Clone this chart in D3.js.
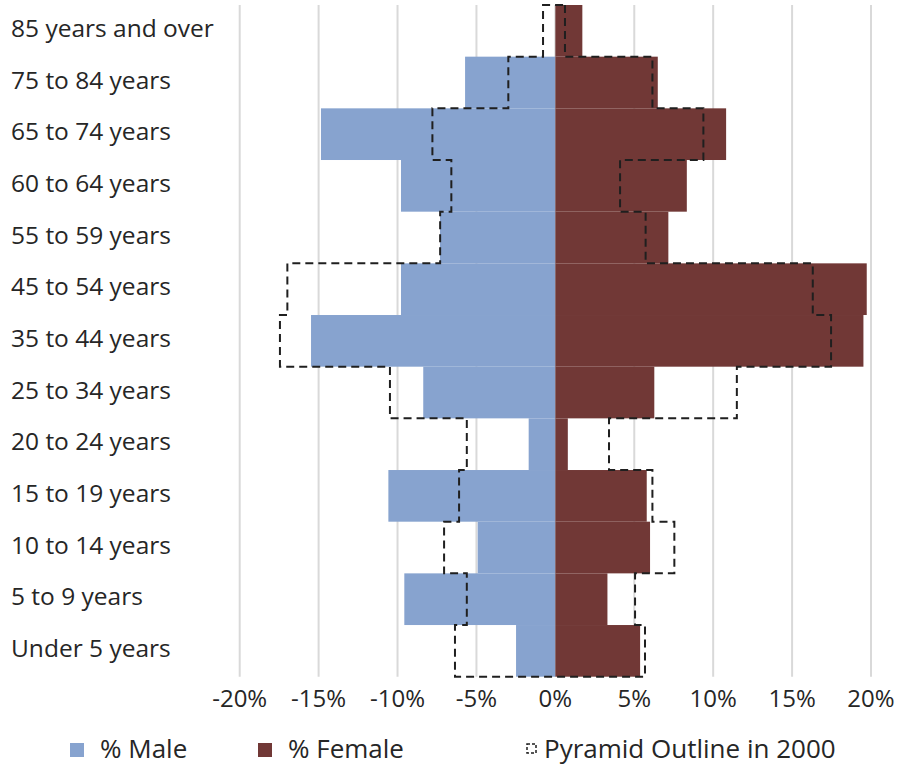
<!DOCTYPE html>
<html>
<head>
<meta charset="utf-8">
<script src="https://cdn.jsdelivr.net/npm/d3@7/dist/d3.min.js"></script>
<style>
  html, body { margin: 0; padding: 0; background: #ffffff; }
  svg { display: block; }
  text { font-family: "Open Sans", "DejaVu Sans", sans-serif; fill: #262626; }
</style>
</head>
<body>
<svg id="chart" width="902" height="767"></svg>
<script>
// Age groups, top of the pyramid first
const categories = [
  "85 years and over", "75 to 84 years", "65 to 74 years", "60 to 64 years",
  "55 to 59 years", "45 to 54 years", "35 to 44 years", "25 to 34 years",
  "20 to 24 years", "15 to 19 years", "10 to 14 years", "5 to 9 years",
  "Under 5 years"
];

// Share of population (%); male values are negative so they extend left
const maleValues   = [0, -5.72, -14.85, -9.78, -7.31, -9.78, -15.48, -8.37, -1.69, -10.58, -4.92, -9.57, -2.49];
const femaleValues = [1.71, 6.49, 10.82, 8.33, 7.16, 19.73, 19.52, 6.27, 0.79, 5.79, 6.0, 3.3, 5.37];

// 2000 pyramid, drawn as a dashed outline
const maleOutline2000   = [-0.78, -2.98, -7.79, -6.59, -7.3, -16.98, -17.45, -10.48, -5.61, -6.1, -7.05, -5.61, -6.36];
const femaleOutline2000 = [0.61, 6.15, 9.38, 4.1, 5.72, 16.31, 17.47, 11.5, 3.4, 6.15, 7.54, 5.05, 5.68];

const tickValues = [-20, -15, -10, -5, 0, 5, 10, 15, 20];
const legendLabels = ["% Male", "% Female", "Pyramid Outline in 2000"];

const colors = { male: "#87a3cf", female: "#713836", outline: "#1f1f1f", grid: "#d9d9d9" };

const svg = d3.select("#chart");
const plot = { left: 239.7, right: 871, top: 5, bottom: 676.7 };

const x = d3.scaleLinear().domain([-20, 20]).range([plot.left, plot.right]);
const y = d3.scaleBand().domain(categories).range([plot.top, plot.bottom]).padding(0);
const bw = y.bandwidth();

// Vertical gridlines
svg.append("g")
  .selectAll("line")
  .data(tickValues)
  .join("line")
  .attr("x1", d => x(d)).attr("x2", d => x(d))
  .attr("y1", plot.top).attr("y2", plot.bottom)
  .attr("stroke", colors.grid)
  .attr("stroke-width", 2);

// Male bars
svg.append("g")
  .selectAll("rect")
  .data(categories.map((c, i) => ({ c, v: maleValues[i] })))
  .join("rect")
  .attr("x", d => x(Math.min(0, d.v)))
  .attr("y", d => y(d.c))
  .attr("width", d => Math.abs(x(d.v) - x(0)))
  .attr("height", bw)
  .attr("fill", colors.male);

// Female bars
svg.append("g")
  .selectAll("rect")
  .data(categories.map((c, i) => ({ c, v: femaleValues[i] })))
  .join("rect")
  .attr("x", d => x(0))
  .attr("y", d => y(d.c))
  .attr("width", d => x(d.v) - x(0))
  .attr("height", bw)
  .attr("fill", colors.female);

// Stepped outline of the 2000 pyramid: down the female side, back up the male side
const outlinePts = [];
categories.forEach((c, i) => {
  outlinePts.push([femaleOutline2000[i], y(c)]);
  outlinePts.push([femaleOutline2000[i], y(c) + bw]);
});
for (let i = categories.length - 1; i >= 0; i--) {
  const c = categories[i];
  outlinePts.push([maleOutline2000[i], y(c) + bw]);
  outlinePts.push([maleOutline2000[i], y(c)]);
}
const outlineLine = d3.line().x(d => x(d[0])).y(d => d[1]);
svg.append("path")
  .attr("d", outlineLine(outlinePts) + "Z")
  .attr("fill", "none")
  .attr("stroke", colors.outline)
  .attr("stroke-width", 2)
  .attr("stroke-dasharray", "8,5");

// Category labels at the left
svg.append("g")
  .selectAll("text")
  .data(categories)
  .join("text")
  .attr("x", 11)
  .attr("y", d => y(d) + bw / 2 + 6)
  .attr("font-size", 24.5)
  .text(d => d);

// Bottom axis labels
svg.append("g")
  .selectAll("text")
  .data(tickValues)
  .join("text")
  .attr("x", d => x(d))
  .attr("y", 707)
  .attr("text-anchor", "middle")
  .attr("font-size", 24)
  .text(d => d + "%");

// Legend
const legend = svg.append("g");
legend.append("rect").attr("x", 70).attr("y", 743).attr("width", 14).attr("height", 14).attr("fill", colors.male);
legend.append("text").attr("x", 100).attr("y", 758).attr("font-size", 26).text(legendLabels[0]);
legend.append("rect").attr("x", 258).attr("y", 743).attr("width", 14).attr("height", 14).attr("fill", colors.female);
legend.append("text").attr("x", 288).attr("y", 758).attr("font-size", 26).text(legendLabels[1]);
legend.append("rect").attr("x", 527).attr("y", 744).attr("width", 9).attr("height", 9)
  .attr("fill", "none").attr("stroke", colors.outline).attr("stroke-width", 1.5).attr("stroke-dasharray", "3,2");
legend.append("text").attr("x", 544).attr("y", 758).attr("font-size", 26).text(legendLabels[2]);
</script>
</body>
</html>
